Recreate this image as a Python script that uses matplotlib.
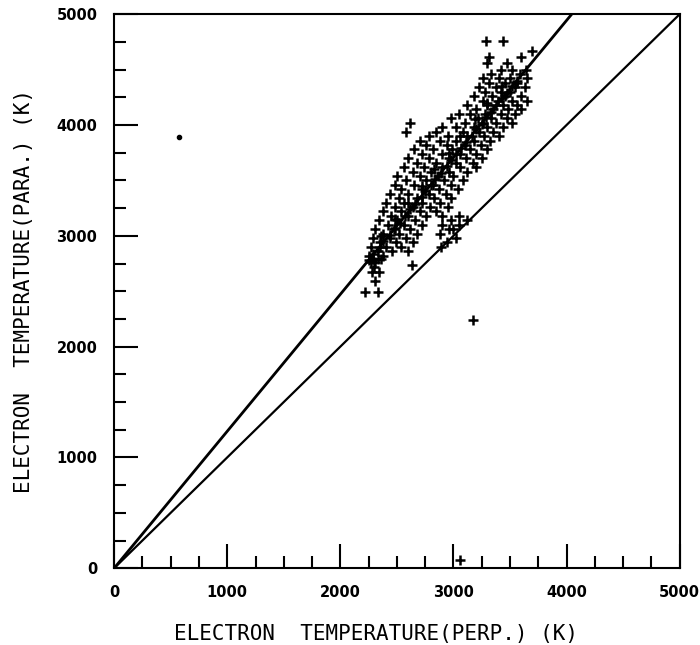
import matplotlib
matplotlib.use("Agg")
import matplotlib.pyplot as plt
from matplotlib.ticker import MultipleLocator

# Measured electron temperatures (K): perpendicular vs parallel, grouped by parallel value
rows = {
    4760: [3290, 3440],
    4670: [3690],
    4610: [3310, 3600],
    4560: [3300, 3470],
    4500: [3420, 3520, 3640],
    4460: [3330, 3590],
    4420: [3260, 3400, 3500, 3650],
    4380: [3310, 3460, 3560],
    4340: [3230, 3380, 3540, 3630],
    4300: [3280, 3420, 3500],
    4260: [3180, 3340, 3460, 3600],
    4220: [3260, 3390, 3520, 3650],
    4180: [3120, 3300, 3440, 3560],
    4140: [3200, 3350, 3480, 3600],
    4100: [3050, 3150, 3280, 3420, 3540],
    4060: [2980, 3220, 3330, 3470],
    4020: [2620, 3100, 3260, 3380, 3520],
    3980: [2900, 3020, 3180, 3300, 3440],
    3940: [2580, 2850, 3080, 3230, 3350],
    3900: [2780, 2950, 3120, 3270, 3400],
    3860: [2700, 2880, 3020, 3180, 3320],
    3820: [2760, 2940, 3100, 3240],
    3780: [2650, 2820, 2990, 3150, 3300],
    3740: [2720, 2900, 3060, 3200],
    3700: [2600, 2780, 2960, 3110, 3250],
    3660: [2680, 2850, 3020, 3170],
    3620: [2560, 2740, 2900, 3060, 3200],
    3580: [2640, 2800, 2960, 3120],
    3540: [2500, 2700, 2860, 3000],
    3500: [2580, 2760, 2920, 3080],
    3460: [2480, 2650, 2820, 2980],
    3420: [2540, 2720, 2870, 3040],
    3380: [2440, 2600, 2780, 2930],
    3340: [2520, 2680, 2830, 2980],
    3300: [2400, 2560, 2720, 2880],
    3260: [2480, 2640, 2790, 2950],
    3220: [2380, 2540, 2700, 2850],
    3180: [2450, 2600, 2760, 2900, 3050],
    3140: [2340, 2500, 2660, 2980, 3120],
    3100: [2420, 2560, 2720, 2900, 3050],
    3060: [2310, 2470, 2620, 2960, 3000],
    3020: [2380, 2520, 2680, 2880],
    2980: [2290, 2440, 2580, 3020],
    2940: [2350, 2490, 2640, 2940],
    2900: [2270, 2400, 2540, 2890],
    2860: [2330, 2460, 2600],
    2820: [2250, 2380],
    2790: [2290, 2330, 2360],
    2760: [2270, 2310],
    2740: [2630],
    2720: [2300],
    2670: [2280, 2340],
    2590: [2310],
    2490: [2220, 2330],
}
t_perp = [x for y, xs in rows.items() for x in xs]
t_para = [y for y, xs in rows.items() for _ in xs]

# densely sampled measurements along the main trend
ridge_perp = [2250, 2290, 2350, 2380, 2440, 2480, 2530, 2570, 2620, 2660,
              2720, 2750, 2800, 2840, 2890, 2940, 2980, 3020, 3070, 3110,
              3160, 3200, 3250, 3290, 3330, 3380, 3430, 3470, 3520, 3560,
              2360, 2480, 2600, 2720, 2830, 2960, 3060, 3190, 3300, 3430]
ridge_para = [2780, 2840, 2900, 2950, 3010, 3070, 3120, 3180, 3240, 3290,
              3350, 3400, 3460, 3510, 3570, 3630, 3680, 3740, 3790, 3850,
              3900, 3960, 4010, 4070, 4120, 4180, 4240, 4290, 4350, 4400,
              3000, 3150, 3300, 3450, 3600, 3750, 3900, 4050, 4200, 4350]

# isolated measurements
out_perp = [3170, 3055]
out_para = [2240, 72]
dot_perp = [578]
dot_para = [3890]

# reference lines through the origin: isotropy and fitted anisotropy ratio
fit_slope = 1.236
line_x = [0, 5000]

fig = plt.figure(figsize=(7.0, 6.45), dpi=100)
ax = fig.add_axes([0.163, 0.119, 0.808, 0.859])

plus = dict(linestyle="none", marker="+", markersize=7,
            markeredgewidth=1.8, color="black")
ax.plot(t_perp, t_para, **plus)
ax.plot(ridge_perp, ridge_para, **plus)
ax.plot(out_perp, out_para, **plus)
ax.plot(dot_perp, dot_para, linestyle="none", marker="o", markersize=3,
        color="black")
ax.plot(line_x, line_x, color="black", linewidth=1.6)
ax.plot(line_x, [v * fit_slope for v in line_x], color="black", linewidth=2.0)

ax.set_xlim(0, 5000)
ax.set_ylim(0, 5000)
ax.xaxis.set_major_locator(MultipleLocator(1000))
ax.xaxis.set_minor_locator(MultipleLocator(250))
ax.yaxis.set_major_locator(MultipleLocator(1000))
ax.yaxis.set_minor_locator(MultipleLocator(250))
ax.tick_params(which="both", direction="in", top=False, right=False,
               width=1.5, color="black")
ax.tick_params(which="major", length=17, pad=12)
ax.tick_params(which="minor", length=8.5)
for lab in ax.get_xticklabels() + ax.get_yticklabels():
    lab.set_fontfamily("DejaVu Sans")
    lab.set_fontweight("bold")
    lab.set_fontsize(10.5)
for sp in ax.spines.values():
    sp.set_linewidth(1.5)

lab_font = dict(family="DejaVu Sans Mono", fontsize=15)
ax.set_xlabel("ELECTRON  TEMPERATURE(PERP.) (K)", **lab_font)
ax.xaxis.set_label_coords(0.463, -0.1)
ax.set_ylabel("ELECTRON  TEMPERATURE(PARA.) (K)", labelpad=16, **lab_font)

fig.savefig("out.png", dpi=100)
